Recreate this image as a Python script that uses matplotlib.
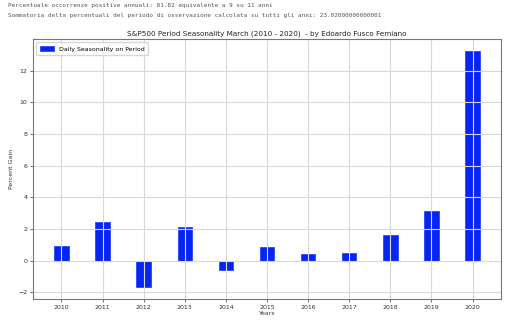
import matplotlib
matplotlib.use("Agg")
import matplotlib.pyplot as plt

years = [2010, 2011, 2012, 2013, 2014, 2015, 2016, 2017, 2018, 2019, 2020]
gains = [0.94, 2.45, -1.68, 2.12, -0.57, 0.84, 0.42, 0.48, 1.65, 3.12, 13.25]
line1 = "Percentuale occorrenze positive annuali: 81.82 equivalente a 9 su 11 anni"
line2 = "Sommatoria delta percentuali del periodo di osservazione calcolata su tutti gli anni: 23.02000000000001"
title = "S&P500 Period Seasonality March (2010 - 2020)  - by Edoardo Fusco Femiano"

fig = plt.figure(figsize=(5.12, 3.24), dpi=100)
fig.text(8/512, 1 - 6/324, line1, family="DejaVu Sans Mono", fontsize=4.3, color="#555555", va="center", ha="left")
fig.text(8/512, 1 - 16/324, line2, family="DejaVu Sans Mono", fontsize=4.3, color="#555555", va="center", ha="left")

ax = fig.add_axes([33/512, 1 - 299/324, (501-33)/512, (299-39.3)/324])
ax.bar(years, gains, width=0.35, color="#0526f2", edgecolor="#2a45ff", linewidth=0.6, label="Daily Seasonality on Period")
ax.set_xticks(years)
ax.set_xticklabels([str(y) for y in years])
ax.grid(True, color="#d8d8d8", linewidth=0.8)
ax.tick_params(labelsize=4.5, length=2, width=0.5, colors="#333333", pad=2)
for s in ax.spines.values():
    s.set_color("#777777")
    s.set_linewidth(0.8)
ax.set_title(title, fontsize=5.2, pad=3, color="#222222")
ax.set_ylabel("Percent Gain", fontsize=4.5, color="#333333", labelpad=3)
ax.set_xlabel("Years", fontsize=4.5, color="#333333", labelpad=1)
ax.legend(loc="upper left", fontsize=4.5, frameon=True, handlelength=2.2, borderpad=0.6, framealpha=0.8)

fig.savefig("out.png", dpi=100)
